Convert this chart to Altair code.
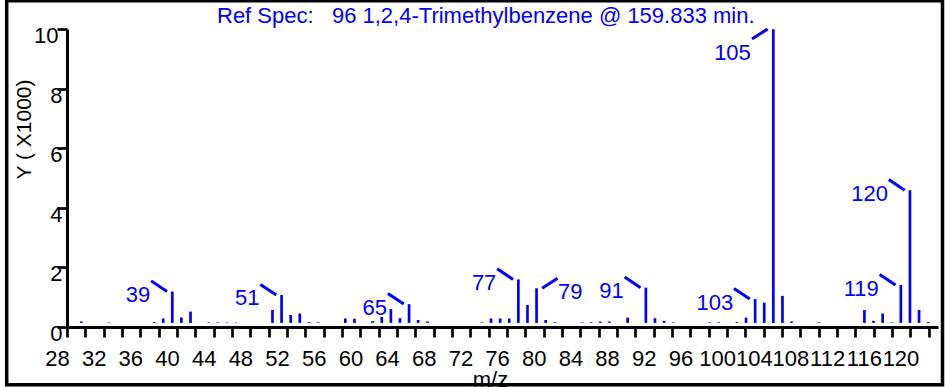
import altair as alt
import pandas as pd

# ---- data ----
mz = [29, 32, 37, 38, 39, 40, 41, 43, 44, 45, 46, 50, 51, 52, 53, 54, 55, 58, 59,
      61, 62, 63, 64, 65, 66, 67, 73, 74, 75, 76, 77, 78, 79, 80, 81, 84, 85, 86,
      87, 89, 91, 92, 93, 94, 98, 99, 101, 102, 103, 104, 105, 106, 107, 110, 115,
      116, 117, 118, 119, 120, 121, 122]
intensity = [50, 15, 30, 150, 1070, 185, 385, 20, 20, 15, 15, 440, 950, 270, 320, 25, 20, 150, 140,
             60, 200, 470, 160, 640, 100, 50, 20, 150, 150, 150, 1480, 610, 1180, 100, 25, 20, 25, 45,
             45, 180, 1200, 160, 70, 20, 20, 20, 30, 180, 810, 690, 10000, 920, 50, 20, 440,
             70, 320, 20, 1290, 4520, 440, 30]

labels_up_left = [39, 51, 65, 77, 91, 103, 119, 120]
labels_up_right = [79]
labels_down_left = [105]

x_ticks = list(range(28, 123, 2))
x_labels = list(range(28, 121, 4))
y_ticks = [0, 2, 4, 6, 8, 10]

title_text = "Ref Spec:\u00a0\u00a0\u00a096 1,2,4-Trimethylbenzene @ 159.833 min."

BLUE = "#0000ff"
FONT = "Liberation Sans"
FS = 22

df = pd.DataFrame({"mz": mz, "intensity": intensity})
df["lab"] = df["mz"].astype(str)
d_ul = df[df["mz"].isin(labels_up_left)]
d_ur = df[df["mz"].isin(labels_up_right)]
d_dl = df[df["mz"].isin(labels_down_left)]

W, H = 871, 298

xb = alt.X("mz:Q", scale=alt.Scale(domain=[27.437, 123.08], nice=False, zero=False), axis=None)
yb = alt.Y("intensity:Q", scale=alt.Scale(domain=[-140, 10010], nice=False, zero=False), axis=None)

bars = alt.Chart(df).mark_rule(color=BLUE, strokeWidth=2.7).encode(
    x=xb, y=yb, y2=alt.datum(0)
)


def leaders(d, xo, yo, x2o, y2o):
    return alt.Chart(d).mark_rule(
        color=BLUE, strokeWidth=3, xOffset=xo, yOffset=yo, x2Offset=x2o, y2Offset=y2o
    ).encode(x=xb, x2=alt.X2("mz"), y=yb, y2=alt.Y2("intensity"))


def texts(d, align, dx, dy):
    return alt.Chart(d).mark_text(
        color=BLUE, align=align, baseline="middle", dx=dx, dy=dy, font=FONT, fontSize=FS
    ).encode(x=xb, y=yb, text="lab:N")


lab_expr = "indexof([" + ",".join(str(v) for v in x_labels) + "], datum.value) >= 0 ? datum.label : ''"

axis_df = pd.DataFrame({"t": x_ticks, "z": [0] * len(x_ticks)})
axes = alt.Chart(axis_df).mark_point(opacity=0).encode(
    x=alt.X(
        "t:Q",
        scale=alt.Scale(domain=[28, 123], nice=False, zero=False),
        axis=alt.Axis(
            values=x_ticks, labelExpr=lab_expr, title="m/z", grid=False,
            domainColor="black", domainWidth=3, tickColor="black", tickWidth=2.7, tickSize=10,
            labelFont=FONT, labelFontSize=FS, labelColor="black", labelOffset=-10, labelPadding=11,
            labelOverlap=False, labelFlush=False, labelBound=False,
            titleFont=FONT, titleFontSize=FS, titleFontWeight="normal", titleColor="black",
            titleX=423, titleY=59.5, titleAlign="center", titleBaseline="alphabetic",
        ),
    ),
    y=alt.Y(
        "z:Q",
        scale=alt.Scale(domain=[0, 10], nice=False, zero=False),
        axis=alt.Axis(
            values=y_ticks, title="Y ( X1000)", grid=False, format="d",
            domainColor="black", domainWidth=3, tickColor="black", tickWidth=2.7, tickSize=10,
            labelFont=FONT, labelFontSize=FS, labelColor="black", labelOffset=6.5,
            labelPadding={"condition": {"test": "datum.value == 10", "value": -1}, "value": -5},
            labelOverlap=False, labelFlush=False, labelBound=False,
            titleFont=FONT, titleFontSize=21, titleFontWeight="normal", titleColor="black",
            titleX=-43, titleY=100, titleAngle=270, titleAlign="center", titleBaseline="middle",
        ),
    ),
)

frame = alt.Chart(alt.Data(values=[{}])).mark_rect(
    fillOpacity=0, stroke="black", strokeWidth=3.5
).encode(
    x=alt.value(-60.3), x2=alt.value(875.5), y=alt.value(-28.3), y2=alt.value(355.7)
)

chart = alt.layer(
    axes,
    bars,
    leaders(d_ul, -5.3, 0, -21.2, -10.6),
    leaders(d_ur, 5.6, 0, 21, -10),
    leaders(d_dl, -5.7, -0.3, -21.3, 9.7),
    texts(d_ul, "right", -22, 3.5),
    texts(d_ur, "left", 21.5, 3.4),
    texts(d_dl, "right", -22.5, 24),
    frame,
).resolve_scale(x="independent", y="independent").properties(
    width=W,
    height=H,
    autosize=alt.AutoSizeParams(type="none"),
    padding={"left": 67, "top": 29, "right": 9, "bottom": 60},
    background="white",
    title=alt.TitleParams(
        text=title_text, anchor="start", frame="group", offset=-46, baseline="alphabetic",
        dx=150, font=FONT, fontSize=22, fontWeight="normal", color=BLUE,
    ),
).configure_view(stroke=None)

chart.save("out.html", embed_options={"renderer": "svg", "actions": False})
